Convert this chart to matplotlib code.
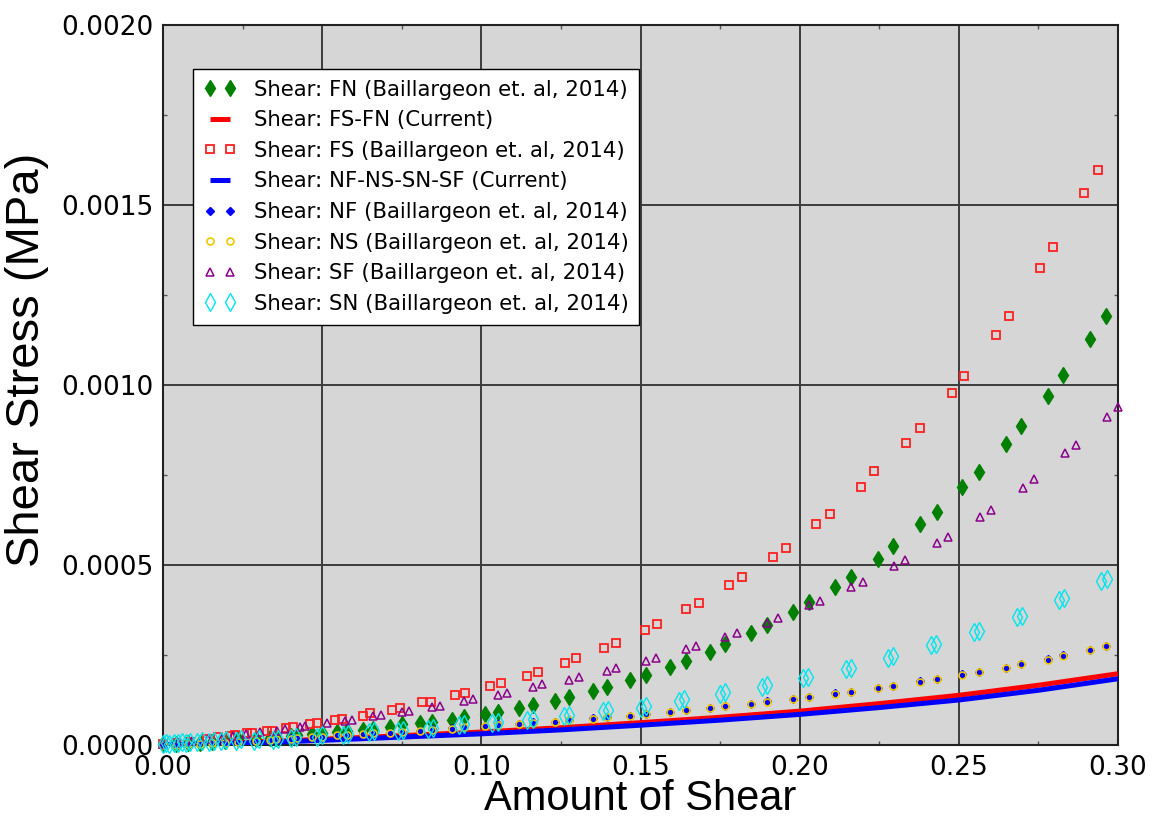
import matplotlib
matplotlib.use("Agg")
import matplotlib.pyplot as plt
from matplotlib.ticker import MultipleLocator, FormatStrFormatter

# ---------------- data ----------------
# FN, NF, NS share the same strain steps
x_fn = [0.0, .0041, .0079, .0116, .0154, .0195, .0236, .0292, .0336, .0355, .0402, .0421,
        .0468, .0500, .0546, .0577, .0629, .0661, .0713, .0750, .0807, .0846, .0908, .0946,
        .1012, .1052, .1118, .1162, .1232, .1276, .1350, .1394, .1467, .1517, .1593, .1642,
        .1718, .1767, .1847, .1897, .1980, .2029, .2110, .2161, .2245, .2293, .2378, .2431,
        .2511, .2563, .2648, .2696, .2780, .2828, .2912, .2962]
y_fn = [.0000014, .0000028, .0000042, .0000056, .0000083, .0000111, .0000153, .0000167,
        .0000181, .0000203, .000025, .0000264, .0000306, .0000333, .0000369, .0000397,
        .0000417, .0000436, .0000508, .0000575, .0000619, .0000647, .0000694, .0000769,
        .0000861, .0000925, .000104, .000111, .000123, .000134, .000150, .000162,
        .000181, .000194, .000217, .000233, .000259, .000280, .000312, .000333,
        .000370, .000398, .000440, .000468, .000517, .000554, .000613, .000648,
        .000717, .000758, .000837, .000886, .000970, .001029, .001127, .001193]
y_nf = [.0000006, .0000014, .0000028, .0000042, .0000056, .0000069, .0000097, .0000125,
        .0000153, .0000167, .0000186, .0000194, .0000228, .0000236, .0000278, .0000278,
        .0000319, .0000333, .0000347, .0000369, .0000397, .0000436, .0000464, .0000508,
        .0000528, .0000575, .0000592, .0000631, .0000647, .0000694, .0000742, .0000778,
        .0000814, .0000869, .0000925, .0000972, .000104, .000108, .000115, .000121,
        .000128, .000133, .000144, .000148, .000158, .000164, .000177, .000183,
        .000196, .000203, .000215, .000225, .000238, .000249, .000264, .000275]
y_ns = [.0000000, .0000008, .0000022, .0000036, .0000050, .0000062, .0000090, .0000118,
        .0000146, .0000160, .0000178, .0000186, .0000220, .0000228, .0000270, .0000270,
        .0000311, .0000325, .0000339, .0000361, .0000389, .0000428, .0000456, .0000500,
        .0000520, .0000567, .0000584, .0000623, .0000639, .0000686, .0000734, .0000770,
        .0000806, .0000861, .0000917, .0000964, .000103, .000107, .000114, .000120,
        .000127, .000132, .000143, .000147, .000157, .000163, .000176, .000182,
        .000195, .000202, .000214, .000224, .000237, .000248, .000263, .000274]

x_fs = [0.0, .0041, .0085, .0137, .0173, .0210, .0226, .0263, .0281, .0326, .0342, .0385,
        .0409, .0462, .0483, .0540, .0561, .0629, .0650, .0719, .0745, .0813, .0842, .0917,
        .0949, .1027, .1061, .1143, .1179, .1264, .1297, .1386, .1422, .1514, .1551, .1643,
        .1684, .1779, .1820, .1915, .1956, .2052, .2094, .2193, .2234, .2333, .2377, .2477,
        .2517, .2617, .2657, .2756, .2797, .2893, .2937]
y_fs = [.0000014, .0000056, .0000097, .0000167, .0000222, .0000258, .0000278, .0000325,
        .0000342, .0000397, .0000397, .0000464, .0000508, .0000575, .0000603, .0000694,
        .0000722, .0000814, .0000881, .0000972, .000104, .000119, .000120, .000138,
        .000144, .000163, .000173, .000193, .000202, .000229, .000241, .000270, .000283,
        .000319, .000336, .000378, .000394, .000444, .000467, .000521, .000548, .000613,
        .000643, .000718, .000761, .000839, .000881, .000979, .001024, .001139, .001191,
        .001325, .001383, .001533, .001598]

x_sf = [0.0, .0047, .0091, .0141, .0185, .0220, .0260, .0305, .0357, .0383, .0430, .0446,
        .0514, .0572, .0593, .0661, .0684, .0750, .0774, .0844, .0870, .0946, .0975, .1052,
        .1081, .1162, .1192, .1276, .1307, .1395, .1424, .1517, .1549, .1642, .1675, .1767,
        .1803, .1897, .1933, .2029, .2065, .2161, .2199, .2297, .2331, .2431, .2467, .2567,
        .2600, .2700, .2736, .2832, .2868, .2965, .2999]
y_sf = [.0000014, .0000056, .0000111, .0000167, .0000208, .0000250, .0000306, .0000353,
        .0000397, .0000436, .0000492, .0000528, .0000603, .0000667, .0000694, .0000814,
        .0000833, .0000925, .0000953, .000106, .000109, .000123, .000127, .000139, .000145,
        .000161, .000169, .000181, .000188, .000206, .000215, .000233, .000243, .000266,
        .000276, .000301, .000312, .000338, .000354, .000389, .000400, .000440, .000452,
        .000497, .000514, .000562, .000579, .000634, .000654, .000715, .000738, .000810,
        .000833, .000911, .000940]

x_sn = [0.0000, 0.0010, 0.0020, 0.0034, 0.0046, 0.0060, 0.0072, 0.0086, 0.0108, 0.0124,
        0.0145, 0.0161, 0.0181, 0.0197, 0.0229, 0.0245, 0.0286, 0.0302, 0.0344, 0.0360,
        0.0401, 0.0417, 0.0485, 0.0501, 0.0564, 0.0580, 0.0648, 0.0664, 0.0737, 0.0753,
        0.0831, 0.0847, 0.0930, 0.0946, 0.1035, 0.1051, 0.1145, 0.1161, 0.1260, 0.1276,
        0.1381, 0.1397, 0.1501, 0.1517, 0.1622, 0.1638, 0.1750, 0.1766, 0.1881, 0.1897,
        0.2011, 0.2027, 0.2144, 0.2160, 0.2278, 0.2294, 0.2413, 0.2429, 0.2548, 0.2564,
        0.2682, 0.2698, 0.2815, 0.2831, 0.2948, 0.2964]
y_sn = [.0000030, .0000060, .0000030, .0000060, .0000050, .0000078, .0000050, .0000078,
        .0000078, .0000106, .0000078, .0000106, .0000105, .0000133, .0000125, .0000153,
        .0000125, .0000153, .0000144, .0000172, .0000189, .0000217, .0000236, .0000264,
        .0000283, .0000311, .0000355, .0000383, .0000383, .0000411, .0000450, .0000478,
        .0000542, .0000570, .0000605, .0000633, .0000700, .0000728, .0000792, .0000820,
        .0000958, .0000986, .000104, .000108, .000123, .000127, .000142, .000146,
        .000162, .000166, .000186, .000190, .000211, .000215, .000243, .000247,
        .000277, .000281, .000313, .000317, .000355, .000359, .000403, .000407,
        .000456, .000460]

# model curves (Current)
x_model = [0.0, 0.025, 0.05, 0.075, 0.10, 0.125, 0.15, 0.175, 0.20, 0.225, 0.25, 0.275, 0.30]
y_fsfn = [0.0, .000007, .000016, .000026, .000036, .000048, .000062, .000077, .000094,
          .000115, .000138, .000166, .000198]
y_nfall = [0.0, .000005, .000013, .000022, .000031, .000042, .000055, .000069, .000085,
           .000104, .000125, .000152, .000184]

labels = ["Shear: FN (Baillargeon et. al, 2014)",
          "Shear: FS-FN (Current)",
          "Shear: FS (Baillargeon et. al, 2014)",
          "Shear: NF-NS-SN-SF (Current)",
          "Shear: NF (Baillargeon et. al, 2014)",
          "Shear: NS (Baillargeon et. al, 2014)",
          "Shear: SF (Baillargeon et. al, 2014)",
          "Shear: SN (Baillargeon et. al, 2014)"]

# ---------------- figure ----------------
plt.rcParams['font.family'] = ['DejaVu Sans']
fig = plt.figure(figsize=(11.6, 8.19), dpi=100)
ax = fig.add_axes([163 / 1160, 1 - 745 / 819, (1118 - 163) / 1160, (745 - 25) / 819])
ax.set_facecolor('#d6d6d6')

ax.plot(x_fn, y_fn, linestyle='none', marker='d', ms=8.5, color='#008000',
        mec='#008000', label=labels[0], clip_on=False, zorder=3)
ax.plot(x_model, y_fsfn, color='#ff0000', lw=3.6, label=labels[1], zorder=3,
        solid_capstyle='butt')
ax.plot(x_fs, y_fs, linestyle='none', marker='s', ms=5.3, mfc='none', mec='#ff2020',
        mew=1.3, label=labels[2], clip_on=False, zorder=3)
ax.plot(x_model, y_nfall, color='#0000ff', lw=3.6, label=labels[3], zorder=3,
        solid_capstyle='butt')
ax.plot(x_fn, y_nf, linestyle='none', marker='D', ms=4, color='#0000ff',
        label=labels[4], clip_on=False, zorder=3)
ax.plot(x_fn, y_ns, linestyle='none', marker='o', ms=5, mfc='none', mec='#f0c800',
        mew=1.2, label=labels[5], clip_on=False, zorder=3)
ax.plot(x_sf, y_sf, linestyle='none', marker='^', ms=5.3, mfc='none', mec='#8b008b',
        mew=1.1, label=labels[6], clip_on=False, zorder=3)
ax.plot(x_sn, y_sn, linestyle='none', marker='d', ms=9, mfc='none', mec='#00e5ee',
        mew=1.0, label=labels[7], clip_on=False, zorder=3)

ax.set_xlim(0, 0.30)
ax.set_ylim(0, 0.0020)
ax.xaxis.set_major_locator(MultipleLocator(0.05))
ax.yaxis.set_major_locator(MultipleLocator(0.0005))
ax.xaxis.set_minor_locator(MultipleLocator(0.025))
ax.yaxis.set_minor_locator(MultipleLocator(0.00025))
ax.xaxis.set_major_formatter(FormatStrFormatter('%.2f'))
ax.yaxis.set_major_formatter(FormatStrFormatter('%.4f'))
ax.grid(True, which='major', color='#3c3c3c', lw=1.4, zorder=1)
ax.set_axisbelow(True)
ax.tick_params(which='both', direction='in', top=True, right=True, color='#555555')
ax.tick_params(which='major', length=0, labelsize=19, pad=7)
ax.tick_params(which='minor', length=3, width=1)
for s in ax.spines.values():
    s.set_color('#222222')
    s.set_linewidth(1.5)

ax.set_xlabel('Amount of Shear', fontsize=30, family='Liberation Sans', labelpad=-1)
ax.set_ylabel('Shear Stress (MPa)', fontsize=34, family='Liberation Sans')
ax.yaxis.set_label_coords(-0.119, 0.535)

leg = ax.legend(loc='upper left', bbox_to_anchor=(0.0317, 0.939), borderaxespad=0,
                fontsize=15.3, numpoints=2, handlelength=1.55, handletextpad=0.8,
                labelspacing=0.5, borderpad=0.5, fancybox=False, framealpha=1,
                edgecolor='black', facecolor='white')
leg.get_frame().set_linewidth(1.0)
leg.set_zorder(5)

fig.savefig('out.png', dpi=100)
